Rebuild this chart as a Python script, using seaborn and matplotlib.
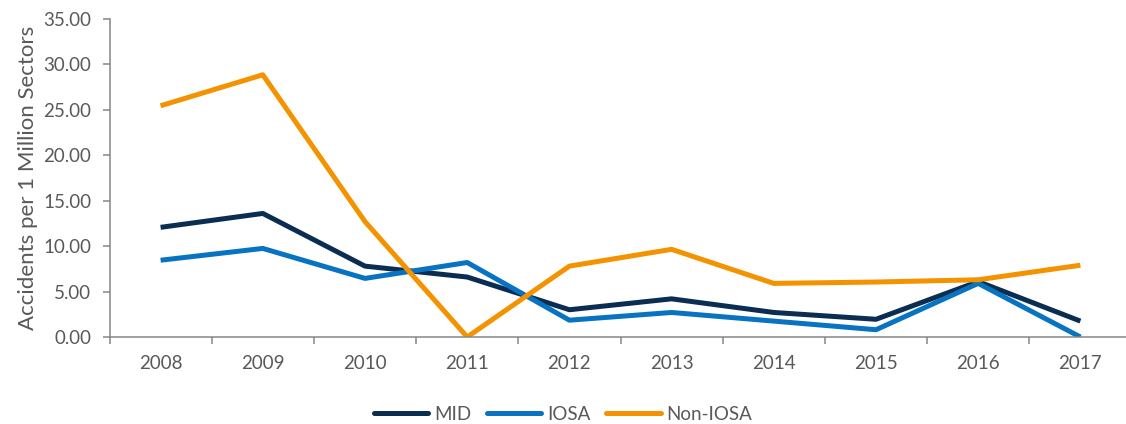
import matplotlib
matplotlib.use("Agg")
import matplotlib.pyplot as plt
import seaborn as sns
import pandas as pd
import numpy as np
from matplotlib.ticker import FixedLocator
from matplotlib.lines import Line2D

years = [2008, 2009, 2010, 2011, 2012, 2013, 2014, 2015, 2016, 2017]
mid = [12.07, 13.6, 7.8, 6.6, 3.0, 4.2, 2.7, 1.95, 6.1, 1.75]
iosa = [8.45, 9.75, 6.45, 8.2, 1.85, 2.7, 1.75, 0.8, 5.9, 0.0]
non_iosa = [25.45, 28.86, 12.7, 0.0, 7.8, 9.65, 5.9, 6.05, 6.3, 7.9]
series_names = ["MID", "IOSA", "Non-IOSA"]
y_ticks = [0, 5, 10, 15, 20, 25, 30, 35]

df = pd.DataFrame({
    "Year": years * 3,
    "Value": mid + iosa + non_iosa,
    "Series": [s for s in series_names for _ in years],
})

sns.set_theme(style="white")
plt.rcParams["font.family"] = ["Lato", "DejaVu Sans"]
text_color = "#595959"
spine_color = "#868686"

fig = plt.figure(figsize=(11.26, 4.24), dpi=100)
ax = fig.add_axes([109.5 / 1126, (424 - 337) / 424, 1022 / 1126, 318 / 424])

palette = {"MID": "#0B2D52", "IOSA": "#0874C1", "Non-IOSA": "#F39300"}
sns.lineplot(data=df, x="Year", y="Value", hue="Series", palette=palette,
             linewidth=3.6, ax=ax, legend=False, solid_capstyle="butt")

ax.set_xlim(years[0] - 0.5, years[-1] + 0.5)
ax.set_ylim(0, 35)
ax.set_xticks(years)
ax.set_xticklabels([str(y) for y in years])
ax.xaxis.set_minor_locator(FixedLocator(np.arange(years[0] - 0.5, years[-1] + 1.0, 1.0)))
ax.set_yticks(y_ticks)
ax.set_yticklabels([f"{v:.2f}" for v in y_ticks])

ax.tick_params(axis="x", which="major", length=0, pad=13, labelsize=13.5, labelcolor=text_color)
ax.tick_params(axis="x", which="minor", length=5, width=1.1, color=spine_color, direction="out", bottom=True)
ax.tick_params(axis="y", which="major", length=5, width=1.1, color=spine_color, direction="out",
               pad=8, labelsize=13.5, labelcolor=text_color, left=True)

for s in ["top", "right"]:
    ax.spines[s].set_visible(False)
for s in ["left", "bottom"]:
    ax.spines[s].set_color(spine_color)
    ax.spines[s].set_linewidth(1.1)

ax.set_xlabel("")
ax.set_ylabel("Accidents per 1 Million Sectors", fontsize=16, color=text_color, labelpad=4)

handles = [Line2D([0], [0], color=palette[n], linewidth=3.6) for n in series_names]
fig.legend(handles, series_names, loc="center", bbox_to_anchor=(0.5, (424 - 414) / 424),
           ncol=3, frameon=False, fontsize=13.5, labelcolor=text_color,
           handlelength=2.9, handletextpad=0.3, columnspacing=0.85)

fig.savefig("out.png", dpi=100, facecolor="white")
